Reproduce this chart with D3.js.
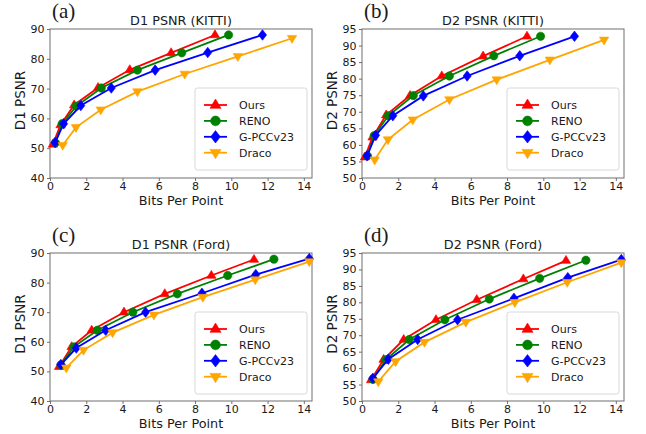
<!DOCTYPE html>
<html><head><meta charset="utf-8">
<script src="https://cdn.jsdelivr.net/npm/d3@7"></script>
<style>body{margin:0;background:#fff}svg{display:block}text{font-family:"DejaVu Sans",sans-serif;fill:#1a1a1a}</style>
</head><body><svg id="c" width="646" height="434"></svg>
<script>
const seriesNames = ["Ours", "RENO", "G-PCCv23", "Draco"];
const seriesColors = ["#ff0000", "#008000", "#0000ff", "#ffa500"];
const seriesMarkers = ["triUp", "circle", "diamond", "triDown"];
const xTicks = [0, 2, 4, 6, 8, 10, 12, 14];
const d1Ticks = [40, 50, 60, 70, 80, 90];
const d2Ticks = [50, 55, 60, 65, 70, 75, 80, 85, 90, 95];

// KITTI bits per point
const bppKittiOurs  = [0.16, 0.58, 1.33, 2.65, 4.4, 6.68, 9.1];
const bppKittiReno  = [0.3, 0.67, 1.45, 2.83, 4.82, 7.27, 9.85];
const bppKittiGpcc  = [0.28, 0.75, 1.7, 3.38, 5.8, 8.7, 11.72];
const bppKittiDraco = [0.7, 1.43, 2.8, 4.82, 7.43, 10.36, 13.35];
// KITTI D1 / D2 PSNR
const d1KittiOurs  = [51.3, 57.8, 64.5, 70.3, 76.3, 82, 88];
const d1KittiReno  = [51.8, 58.2, 64.1, 70.2, 76.2, 82, 88];
const d1KittiGpcc  = [51.9, 58.2, 64.3, 70.2, 76.2, 82.1, 88];
const d1KittiDraco = [51, 57, 62.9, 69, 74.9, 80.8, 86.9];
const d2KittiOurs  = [56.3, 62.3, 69, 74.9, 80.8, 86.8, 92.8];
const d2KittiReno  = [56.7, 62.8, 68.8, 74.9, 80.8, 86.9, 92.8];
const d2KittiGpcc  = [56.7, 62.9, 68.8, 74.8, 80.8, 86.9, 92.8];
const d2KittiDraco = [55.5, 61.6, 67.6, 73.7, 79.7, 85.7, 91.7];
// Ford bits per point
const bppFordOurs  = [0.5, 1.19, 2.3, 4.08, 6.33, 8.9, 11.25];
const bppFordReno  = [0.6, 1.32, 2.61, 4.57, 7.02, 9.8, 12.35];
const bppFordGpcc  = [0.6, 1.45, 3.07, 5.27, 8.38, 11.35, 14.3];
const bppFordDraco = [0.9, 1.85, 3.45, 5.73, 8.43, 11.32, 14.3];
// Ford D1 / D2 PSNR
const d1FordOurs  = [51.6, 58.3, 63.9, 70, 76.2, 82.4, 87.8];
const d1FordReno  = [52.2, 58.3, 63.9, 70, 76.2, 82.4, 87.9];
const d1FordGpcc  = [52.3, 57.9, 63.9, 70, 76.4, 82.7, 88.1];
const d1FordDraco = [51.2, 57.2, 63.1, 69.1, 75.1, 81, 87.1];
const d2FordOurs  = [56.4, 62.6, 68.7, 74.7, 80.8, 87.1, 92.7];
const d2FordReno  = [56.6, 62.6, 68.7, 74.7, 81, 87.3, 92.8];
const d2FordGpcc  = [56.9, 62.7, 68.7, 74.7, 81.2, 87.5, 93];
const d2FordDraco = [55.9, 62, 67.9, 74, 80, 86.1, 92.1];

const panelTags = ["(a)", "(b)", "(c)", "(d)"];
const panelTitles = ["D1 PSNR (KITTI)", "D2 PSNR (KITTI)", "D1 PSNR (Ford)", "D2 PSNR (Ford)"];
const panelYLabels = ["D1 PSNR", "D2 PSNR", "D1 PSNR", "D2 PSNR"];

const panelData = [
  {xs: [bppKittiOurs, bppKittiReno, bppKittiGpcc, bppKittiDraco], ys: [d1KittiOurs, d1KittiReno, d1KittiGpcc, d1KittiDraco], yDom: [40, 90], ticks: d1Ticks},
  {xs: [bppKittiOurs, bppKittiReno, bppKittiGpcc, bppKittiDraco], ys: [d2KittiOurs, d2KittiReno, d2KittiGpcc, d2KittiDraco], yDom: [50, 95], ticks: d2Ticks},
  {xs: [bppFordOurs, bppFordReno, bppFordGpcc, bppFordDraco], ys: [d1FordOurs, d1FordReno, d1FordGpcc, d1FordDraco], yDom: [40, 90], ticks: d1Ticks},
  {xs: [bppFordOurs, bppFordReno, bppFordGpcc, bppFordDraco], ys: [d2FordOurs, d2FordReno, d2FordGpcc, d2FordDraco], yDom: [50, 95], ticks: d2Ticks}
];

const boxes = [
  {l: 50, r: 312, t: 29, b: 178},
  {l: 362, r: 624, t: 29, b: 178},
  {l: 50, r: 312, t: 253, b: 401},
  {l: 362, r: 624, t: 253, b: 401}
];

const svg = d3.select("#c");
const spineColor = "#6e6e6e";

function markerPath(type, s) {
  if (type === "circle") return d3.symbol(d3.symbolCircle, Math.PI * s * s / 4 * 0.95)();
  if (type === "diamond") { const h = s * 0.62, w = s * 0.48; return `M0,${-h}L${w},0L0,${h}L${-w},0Z`; }
  const r = s * 0.6;
  const pts = [[0, -r], [r * 0.92, r * 0.55], [-r * 0.92, r * 0.55]];
  const sign = type === "triDown" ? -1 : 1;
  return "M" + pts.map(p => `${p[0]},${p[1] * sign}`).join("L") + "Z";
}

panelData.forEach((pd, i) => {
  const bx = boxes[i];
  const x = d3.scaleLinear().domain([0, 14.45]).range([bx.l, bx.r]);
  const y = d3.scaleLinear().domain(pd.yDom).range([bx.b, bx.t]);
  const g = svg.append("g");

  // axes
  const xAxis = d3.axisBottom(x).tickValues(xTicks).tickSize(3).tickPadding(1).tickFormat(d3.format("d"));
  const yAxis = d3.axisLeft(y).tickValues(pd.ticks).tickSize(3).tickPadding(2.5).tickFormat(d3.format("d"));
  const gx = g.append("g").attr("transform", `translate(0,${bx.b})`).call(xAxis);
  const gy = g.append("g").attr("transform", `translate(${bx.l},0)`).call(yAxis);
  [gx, gy].forEach(a => {
    a.select(".domain").remove();
    a.selectAll("line").attr("stroke", spineColor);
    a.selectAll("text").style("font-size", "11px").attr("fill", "#222");
  });
  g.append("rect").attr("x", bx.l).attr("y", bx.t).attr("width", bx.r - bx.l).attr("height", bx.b - bx.t)
    .attr("fill", "none").attr("stroke", spineColor).attr("stroke-width", 1);

  // lines
  const clipId = "clip" + i;
  svg.append("clipPath").attr("id", clipId).append("rect")
    .attr("x", bx.l - 6).attr("y", bx.t - 6).attr("width", bx.r - bx.l + 12).attr("height", bx.b - bx.t + 12);
  const plot = g.append("g").attr("clip-path", `url(#${clipId})`);
  const line = d3.line().x(d => x(d[0])).y(d => y(d[1]));
  seriesNames.forEach((nm, k) => {
    const pts = pd.xs[k].map((v, j) => [v, pd.ys[k][j]]);
    plot.append("path").datum(pts).attr("d", line).attr("fill", "none")
      .attr("stroke", seriesColors[k]).attr("stroke-width", 1.8);
    plot.selectAll(null).data(pts).enter().append("path")
      .attr("d", markerPath(seriesMarkers[k], 8.5))
      .attr("transform", d => `translate(${x(d[0])},${y(d[1])})`)
      .attr("fill", seriesColors[k]).attr("stroke", seriesColors[k]).attr("stroke-width", 0.6);
  });

  // title
  g.append("text").attr("x", (bx.l + bx.r) / 2).attr("y", bx.t - 4).attr("text-anchor", "middle")
    .style("font-size", "12.8px").text(panelTitles[i]);
  // x label
  g.append("text").attr("x", (bx.l + bx.r) / 2).attr("y", bx.b + 27).attr("text-anchor", "middle")
    .style("font-size", "12.8px").text("Bits Per Point");
  // y label
  g.append("text").attr("transform", `translate(${bx.l - 25},${(bx.t + bx.b) / 2 - 3}) rotate(-90)`)
    .attr("text-anchor", "middle").style("font-size", "13.5px").text(panelYLabels[i]);
  // panel tag
  g.append("text").attr("x", bx.l + 2).attr("y", bx.t - 11).style("font-family", "'Liberation Serif',serif")
    .style("font-size", "21px").attr("fill", "#111").text(panelTags[i]);

  // legend
  const lx = bx.r - 117, ly = bx.t + 59, lw = 112, lh = 82;
  const lg = g.append("g");
  lg.append("rect").attr("x", lx).attr("y", ly).attr("width", lw).attr("height", lh).attr("rx", 2.5)
    .attr("fill", "#fff").attr("fill-opacity", 0.85).attr("stroke", "#d4d4d4").attr("stroke-width", 0.9);
  seriesNames.forEach((nm, k) => {
    const ry = ly + 17 + k * 15.9;
    lg.append("line").attr("x1", lx + 9).attr("x2", lx + 32).attr("y1", ry).attr("y2", ry)
      .attr("stroke", seriesColors[k]).attr("stroke-width", 1.8);
    lg.append("path").attr("d", markerPath(seriesMarkers[k], 10)).attr("transform", `translate(${lx + 20.5},${ry})`)
      .attr("fill", seriesColors[k]).attr("stroke", seriesColors[k]).attr("stroke-width", 0.6);
    lg.append("text").attr("x", lx + 44).attr("y", ry + 4).style("font-size", "11px").text(nm);
  });
});
</script></body></html>
